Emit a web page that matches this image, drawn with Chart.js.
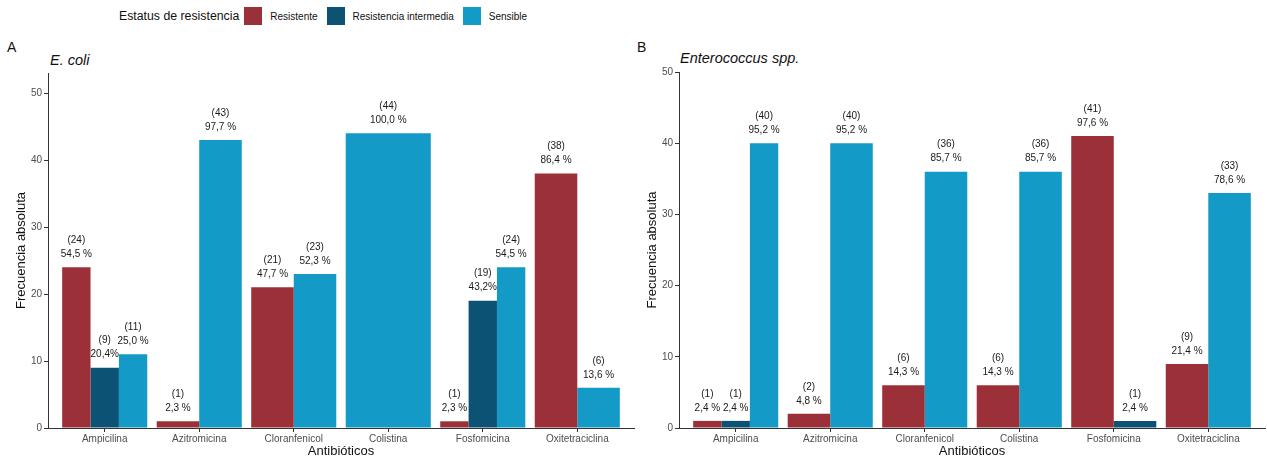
<!DOCTYPE html>
<html>
<head>
<meta charset="utf-8">
<script src="https://cdn.jsdelivr.net/npm/chart.js@4/dist/chart.umd.min.js"></script>
<style>
  body { margin: 0; background: #fff; font-family: "Liberation Sans", Arial, sans-serif; }
  #wrap { position: relative; width: 1267px; height: 459px; overflow: hidden; }
  .cv { position: absolute; top: 40px; height: 419px; }
  #legend { position: absolute; left: 119px; top: 7px; height: 18px; display: flex; align-items: center; }
  #legend .ttl { font-size: 12.3px; color: #111; margin-right: 5px; }
  #legend .box { width: 18px; height: 18px; margin-right: 8px; }
  #legend .lbl { font-size: 10px; color: #111; margin-right: 9px; }
  .panel { position: absolute; font-size: 14px; color: #111; line-height: 14px; }
  .sub { position: absolute; font-size: 14.5px; font-style: italic; color: #111; line-height: 15px; }
</style>
</head>
<body>
<div id="wrap">
  <div id="legend"></div>
  <div class="panel" style="left:7px; top:40px;">A</div>
  <div class="sub" style="left:50px; top:53px;">E. coli</div>
  <div class="panel" style="left:637px; top:40px;">B</div>
  <div class="sub" style="left:680px; top:51px;">Enterococcus spp.</div>
  <canvas id="chartA" class="cv" style="left:0px; width:640px;" width="640" height="419"></canvas>
  <canvas id="chartB" class="cv" style="left:631px; width:636px;" width="636" height="419"></canvas>
</div>
<script>
const antibioticos = ["Ampicilina", "Azitromicina", "Cloranfenicol", "Colistina", "Fosfomicina", "Oxitetraciclina"];
const estatus = ["Resistente", "Resistencia intermedia", "Sensible"];
const colores = ["#9c3039", "#0b5274", "#149ac6"];
const yTicks = [0, 10, 20, 30, 40, 50];

// E. coli
const ecoliResistente = [24, 1, 21, null, 1, 38];
const ecoliIntermedia = [9, null, null, null, 19, null];
const ecoliSensible = [11, 43, 23, 44, 24, 6];
const ecoliResistentePct = ["54,5 %", "2,3 %", "47,7 %", "", "2,3 %", "86,4 %"];
const ecoliIntermediaPct = ["20,4%", "", "", "", "43,2%", ""];
const ecoliSensiblePct = ["25,0 %", "97,7 %", "52,3 %", "100,0 %", "54,5 %", "13,6 %"];

// Enterococcus spp.
const enteroResistente = [1, 2, 6, 6, 41, 9];
const enteroIntermedia = [1, null, null, null, 1, null];
const enteroSensible = [40, 40, 36, 36, null, 33];
const enteroResistentePct = ["2,4 %", "4,8 %", "14,3 %", "14,3 %", "97,6 %", "21,4 %"];
const enteroIntermediaPct = ["2,4 %", "", "", "", "2,4 %", ""];
const enteroSensiblePct = ["95,2 %", "95,2 %", "85,7 %", "85,7 %", "", "78,6 %"];

const legend = document.getElementById("legend");
legend.innerHTML = `<span class="ttl">Estatus de resistencia</span>` +
  estatus.map((s, i) => `<span class="box" style="background:${colores[i]}"></span><span class="lbl">${s}</span>`).join("");

// "(n)" and percentage written above each bar
const barLabels = {
  id: "barLabels",
  afterDatasetsDraw(chart) {
    const ctx = chart.ctx;
    ctx.save();
    ctx.font = "10px 'Liberation Sans', Arial, sans-serif";
    ctx.fillStyle = "#1a1a1a";
    ctx.textAlign = "center";
    ctx.textBaseline = "middle";
    chart.data.datasets.forEach((ds, d) => {
      const meta = chart.getDatasetMeta(d);
      meta.data.forEach((bar, i) => {
        const v = ds.data[i].y;
        if (v === null) return;
        ctx.fillText("(" + v + ")", bar.x, bar.y - 27);
        ctx.fillText(ds.pct[i], bar.x, bar.y - 13);
      });
    });
    ctx.restore();
  }
};

function makeChart(id, series, pcts, yMax, padTop, padRight) {
  const datasets = series.map((vals, k) => ({
    label: estatus[k],
    data: vals.map((v, i) => ({ x: i + 1, y: v })),
    pct: pcts[k],
    backgroundColor: colores[k],
    borderWidth: 0,
    skipNull: true,
    categoryPercentage: 0.9,
    barPercentage: 1.0
  }));
  return new Chart(document.getElementById(id), {
    type: "bar",
    data: { datasets },
    options: {
      responsive: false,
      animation: false,
      layout: { padding: { top: padTop, right: padRight, left: 0, bottom: 0 } },
      plugins: { legend: { display: false }, tooltip: { enabled: false } },
      scales: {
        x: {
          type: "linear",
          min: 0.4,
          max: 6.6,
          offset: false,
          afterBuildTicks: s => { s.ticks = antibioticos.map((_, i) => ({ value: i + 1 })); },
          afterFit: s => { s.height = 31; },
          grid: { display: true, offset: false, drawOnChartArea: false, drawTicks: true, tickLength: 4, color: "#333" },
          border: { display: true, color: "#333", width: 1 },
          ticks: {
            autoSkip: false, maxRotation: 0, padding: 1,
            color: "#4d4d4d",
            font: { family: "'Liberation Sans', Arial, sans-serif", size: 10 },
            callback: v => antibioticos[Math.round(v) - 1]
          },
          title: {
            display: true, text: "Antibióticos", color: "#111",
            font: { family: "'Liberation Sans', Arial, sans-serif", size: 13 },
            padding: { top: 0, bottom: 0 }
          }
        },
        y: {
          min: 0,
          max: yMax,
          afterBuildTicks: s => { s.ticks = yTicks.map(v => ({ value: v })); },
          afterFit: s => { s.width = 48; },
          grid: { display: true, drawOnChartArea: false, drawTicks: true, tickLength: 4, color: "#333" },
          border: { display: true, color: "#333", width: 1 },
          ticks: {
            padding: 2, color: "#4d4d4d",
            font: { family: "'Liberation Sans', Arial, sans-serif", size: 10 }
          },
          title: {
            display: true, text: "Frecuencia absoluta", color: "#111",
            font: { family: "'Liberation Sans', Arial, sans-serif", size: 13 },
            padding: { top: 14, bottom: 0 }
          }
        }
      }
    },
    plugins: [barLabels]
  });
}

makeChart("chartA",
  [ecoliResistente, ecoliIntermedia, ecoliSensible],
  [ecoliResistentePct, ecoliIntermediaPct, ecoliSensiblePct],
  53, 33, 6);

makeChart("chartB",
  [enteroResistente, enteroIntermedia, enteroSensible],
  [enteroResistentePct, enteroIntermediaPct, enteroSensiblePct],
  50, 32, 2);
</script>
</body>
</html>
